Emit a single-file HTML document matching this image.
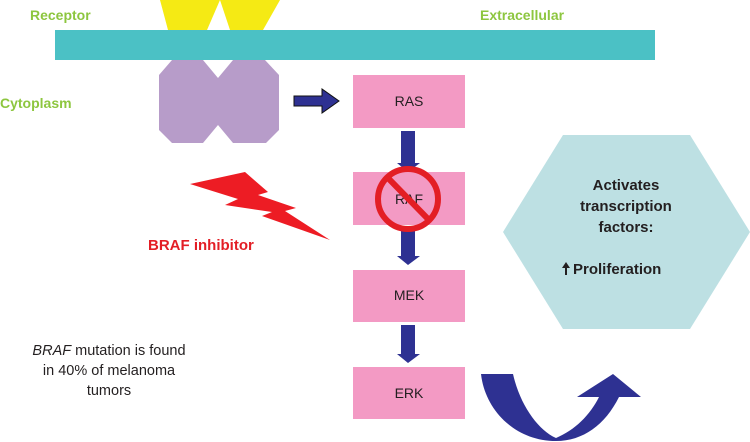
<!DOCTYPE html>
<html><head><meta charset="utf-8"><style>
body{margin:0;background:#fff;}
svg{display:block;}
</style></head><body>
<svg width="750" height="442" viewBox="0 0 750 442" xmlns="http://www.w3.org/2000/svg" font-family="Liberation Sans, sans-serif">
<polygon points="160,0 220,0 207,30 168,30" fill="#f5ea14"/>
<polygon points="220,0 280,0 263,30 230,30" fill="#f5ea14"/>
<rect x="55" y="30" width="600" height="30" fill="#4bc1c5"/>
<polygon points="159,75 172,60 203,60 218,78 233,60 265,60 279,75 279,130 266,143 233,143 218,125 203,143 172,143 159,130" fill="#b79cc9"/>
<text x="30" y="20" font-size="14" font-weight="bold" fill="#8dc63f">Receptor</text>
<text x="480" y="20" font-size="14" font-weight="bold" fill="#8dc63f">Extracellular</text>
<text x="0" y="108" font-size="14" font-weight="bold" fill="#8dc63f">Cytoplasm</text>
<polygon points="294,96 322,96 322,89 339,101 322,113 322,106 294,106" fill="#2e3192" stroke="#111" stroke-width="1"/>
<rect x="353" y="75" width="112" height="53" fill="#f39ac4"/>
<rect x="353" y="172" width="112" height="53" fill="#f39ac4"/>
<rect x="353" y="270" width="112" height="52" fill="#f39ac4"/>
<rect x="353" y="367" width="112" height="52" fill="#f39ac4"/>
<g font-size="14" fill="#231f20" text-anchor="middle">
<text x="409" y="106">RAS</text>
<text x="409" y="204">RAF</text>
<text x="409" y="300">MEK</text>
<text x="409" y="398">ERK</text>
</g>
<g fill="#2e3192">
<polygon points="401,131 415,131 415,163 420,163 408,172 397,163 401,163"/>
<polygon points="401,228 415,228 415,256 420,256 408,265 397,256 401,256"/>
<polygon points="401,325 415,325 415,354 420,354 408,363 397,354 401,354"/>
</g>
<circle cx="408" cy="199" r="30" fill="none" stroke="#e31e25" stroke-width="6"/>
<line x1="388" y1="178" x2="429" y2="220" stroke="#e31e25" stroke-width="6"/>
<polygon points="190,184 245,172 268,192 258,195 296,208 285,211 330,240 262,216 272,212 225,205 238,199" fill="#ed1c24"/>
<text x="148" y="250" font-size="15" font-weight="bold" fill="#e31e25">BRAF inhibitor</text>
<g font-size="14.5" fill="#231f20" text-anchor="middle">
<text x="109" y="355"><tspan font-style="italic">BRAF</tspan> mutation is found</text>
<text x="109" y="375">in 40% of melanoma</text>
<text x="109" y="395">tumors</text>
</g>
<polygon points="503,232 563,135 690,135 750,232 690,329 563,329" fill="#bde0e3"/>
<g font-size="15" font-weight="bold" fill="#231f20" text-anchor="middle">
<text x="626" y="190">Activates</text>
<text x="626" y="211">transcription</text>
<text x="626" y="232">factors:</text>
</g>
<text x="573" y="274" font-size="15" font-weight="bold" fill="#231f20">Proliferation</text>
<polygon points="566,262 570,268 567,268 567,275 565,275 565,268 562,268" fill="#231f20"/>
<path d="M481,374 L513,374 C520,405 538,430 556,438 C575,430 590,415 599,397 L577,397 L613,374 L641,397 L619,397 C605,425 583,441 556,441 C515,441 485,410 481,374 Z" fill="#2e3192"/>
</svg>
</body></html>
